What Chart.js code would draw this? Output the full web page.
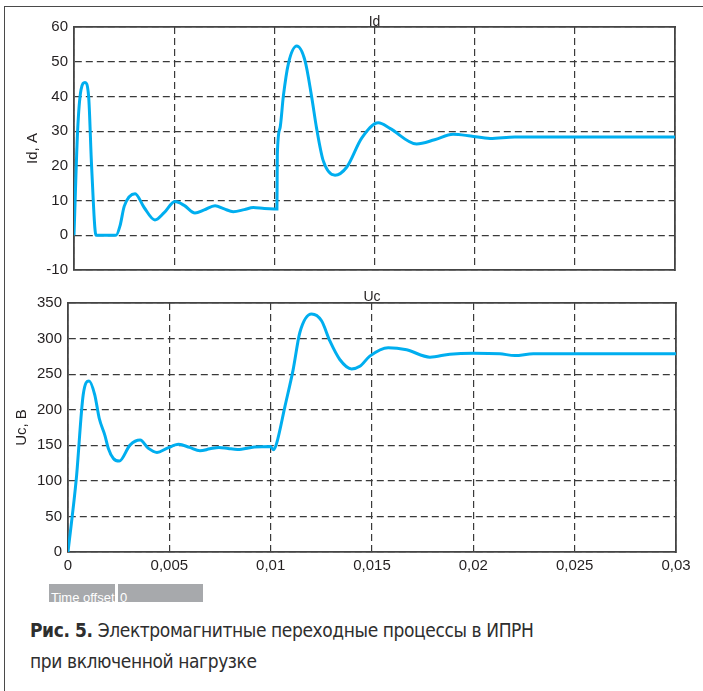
<!DOCTYPE html>
<html>
<head>
<meta charset="utf-8">
<script src="https://cdn.jsdelivr.net/npm/chart.js@4.4.1/dist/chart.umd.min.js"></script>
<style>
  html, body { margin: 0; padding: 0; background: #fff; }
  body { width: 703px; height: 691px; position: relative; overflow: hidden; font-family: "Liberation Sans", Arial, sans-serif; }
  .frame { position: absolute; left: 4px; top: 6px; width: 710px; height: 700px; border-top: 1.5px solid #4a4a4a; border-left: 1.5px solid #4a4a4a; }
  .panel { position: absolute; left: 0; }
  .offset { position: absolute; top: 584px; height: 11px; padding-top: 7px; background: #a7a9ac; color: #fff; font-size: 13px; line-height: 1; overflow: hidden; white-space: nowrap; }
  .caption { position: absolute; left: 30px; top: 615px; font-family: "Liberation Sans Narrow", "DejaVu Sans Condensed", sans-serif; font-size: 19px; line-height: 31px; letter-spacing: -0.4px; color: #2e2e2e; }
  .caption b { font-weight: bold; }
</style>
</head>
<body>
<div class="frame"></div>
<canvas id="chart-id" class="panel" style="top:0" width="703" height="285"></canvas>
<canvas id="chart-uc" class="panel" style="top:285px" width="703" height="300"></canvas>
<div class="offset" style="left:49px;width:64px;padding-left:2px">Time offset</div>
<div class="offset" style="left:118px;width:83px;padding-left:2px">0</div>
<div class="caption"><b>Рис. 5.</b> Электромагнитные переходные процессы в ИПРН<br>при включенной нагрузке</div>

<script>
// ============================================================
// Data
// ============================================================
const X_TICK_VALUES = [0, 0.005, 0.01, 0.015, 0.02, 0.025, 0.03];
const X_TICK_LABELS = ['0', '0,005', '0,01', '0,015', '0,02', '0,025', '0,03'];

const ID_Y_TICKS = [-10, 0, 10, 20, 30, 40, 50, 60];
const ID_T = [0, 0.00018, 0.00035, 0.00055, 0.00073, 0.00088, 0.0011, 0.0021, 0.0023, 0.00251,
  0.00305, 0.0035, 0.00404, 0.0045, 0.00504, 0.0055, 0.00604, 0.0065, 0.00704, 0.0075,
  0.00795, 0.0085, 0.00895, 0.0095, 0.01, 0.01013, 0.01015, 0.01028, 0.01045, 0.0107,
  0.01112, 0.01153, 0.01186, 0.01211, 0.01244, 0.01303, 0.01361, 0.01436, 0.01519, 0.01577,
  0.0171, 0.018, 0.01892, 0.0198, 0.02077, 0.022, 0.025, 0.03];
const ID_V = [0, 30, 41.9, 44, 40, 19.7, 0, 0, 2.8, 8.4,
  12, 8, 4.4, 6.5, 9.7, 8.6, 6.4, 7.3, 8.5, 7.6,
  6.8, 7.4, 8.0, 7.7, 7.6, 7.6, 23.3, 30.8, 40.1, 49.4,
  54.5, 50.3, 40, 30.8, 21.5, 17.3, 19.6, 28, 32.4, 30.8,
  26.3, 27.5, 29.1, 28.6, 27.9, 28.3, 28.3, 28.3];

const UC_Y_TICKS = [0, 50, 100, 150, 200, 250, 300, 350];
const UC_T = [0, 0.00041, 0.00075, 0.00104, 0.00132, 0.00154, 0.00182, 0.00199, 0.00224, 0.00253,
  0.00306, 0.00356, 0.00397, 0.00439, 0.0049, 0.00546, 0.006, 0.00651, 0.007, 0.00745,
  0.0079, 0.00836, 0.00919, 0.00998, 0.01015, 0.01029, 0.0107, 0.01111, 0.01144, 0.01202,
  0.01251, 0.01292, 0.01341, 0.01399, 0.0144, 0.01489, 0.0158, 0.01671, 0.01786, 0.01884,
  0.02, 0.02131, 0.02205, 0.02296, 0.025, 0.03];
const UC_V = [0, 103, 221, 240.5, 221, 188, 164, 145.6, 131.5, 127.8,
  150.3, 157.4, 145.6, 140, 146, 151.3, 147, 142.3, 145, 147,
  145.5, 144.2, 147.5, 148.4, 143.8, 152.3, 204, 256.4, 308.5, 334.5,
  325, 296.6, 270.6, 257.4, 261, 275.3, 287.2, 284.2, 273.9, 278.1,
  279.5, 278.6, 276.2, 278.6, 278.6, 278.6];

// ============================================================
// Styling
// ============================================================
const FONT = "'Liberation Sans', Arial, sans-serif";
const TEXT = '#231f20';
const LINE = '#00aeef';
const GRID = '#3a3a3a';
const BOX = '#444444';

// ============================================================
// One oscillogram panel
// ============================================================
function drawPanel(id, p) {
  const hiddenEdge = {
    type: 'linear',
    grid: { display: false },
    ticks: { display: false },
    border: { color: BOX, width: 1.8 },
  };
  new Chart(document.getElementById(id), {
    type: 'line',
    data: {
      datasets: [{
        data: p.t.map((t, i) => ({ x: t, y: p.v[i] })),
        borderColor: LINE,
        borderWidth: 3,
        pointRadius: 0,
        cubicInterpolationMode: 'monotone',
        fill: false,
      }],
    },
    options: {
      responsive: false,
      animation: false,
      events: [],
      layout: { padding: p.padding },
      plugins: {
        legend: { display: false },
        tooltip: { enabled: false },
        title: {
          display: true,
          text: p.title,
          fullSize: false,
          color: TEXT,
          font: { family: FONT, size: 14, weight: 'normal', lineHeight: 0.7 },
          padding: p.titlePad,
        },
      },
      scales: {
        x: {
          type: 'linear', min: 0, max: 0.03,
          afterBuildTicks: s => { s.ticks = X_TICK_VALUES.map(v => ({ value: v })); },
          afterFit: s => { s.height = p.xHeight; },
          grid: { color: GRID, lineWidth: 1.2, drawTicks: false },
          border: { color: BOX, width: 1.8, dash: [7, 4] },
          ticks: {
            display: p.showX, color: TEXT, padding: 5, maxRotation: 0,
            font: { family: FONT, size: 15 },
            callback: (v, i) => X_TICK_LABELS[i],
          },
        },
        xTop: Object.assign({ position: 'top', min: 0, max: 0.03, afterFit: s => { s.height = 0; } }, hiddenEdge),
        y: {
          type: 'linear', min: p.yTicks[0], max: p.yTicks[p.yTicks.length - 1],
          afterBuildTicks: s => { s.ticks = p.yTicks.map(v => ({ value: v })); },
          afterFit: s => { s.width = p.yWidth; },
          grid: { color: GRID, lineWidth: 1.2, drawTicks: false },
          border: { color: BOX, width: 1.8, dash: [7, 4] },
          ticks: { color: TEXT, padding: 6, font: { family: FONT, size: 15 } },
          title: {
            display: true, text: p.yLabel, color: TEXT,
            font: { family: FONT, size: 15 },
            padding: { top: p.yTitlePad, bottom: 0 },
          },
        },
        yRight: Object.assign({ position: 'right', min: p.yTicks[0], max: p.yTicks[p.yTicks.length - 1],
          afterFit: s => { s.width = 0; } }, hiddenEdge),
      },
    },
  });
}

drawPanel('chart-id', {
  t: ID_T, v: ID_V, yTicks: ID_Y_TICKS,
  title: 'Id', yLabel: 'Id, A',
  titlePad: { top: 17.2, bottom: 0 },
  padding: { left: 0, top: 0, right: 28, bottom: 12 },
  yWidth: 74, yTitlePad: 24, xHeight: 0, showX: false,
});

drawPanel('chart-uc', {
  t: UC_T, v: UC_V, yTicks: UC_Y_TICKS,
  title: 'Uc', yLabel: 'Uc, B',
  titlePad: { top: 7.1, bottom: 1.1 },
  padding: { left: 0, top: 0, right: 27, bottom: 0 },
  yWidth: 68, yTitlePad: 13, xHeight: 33, showX: true,
});
</script>
</body>
</html>
